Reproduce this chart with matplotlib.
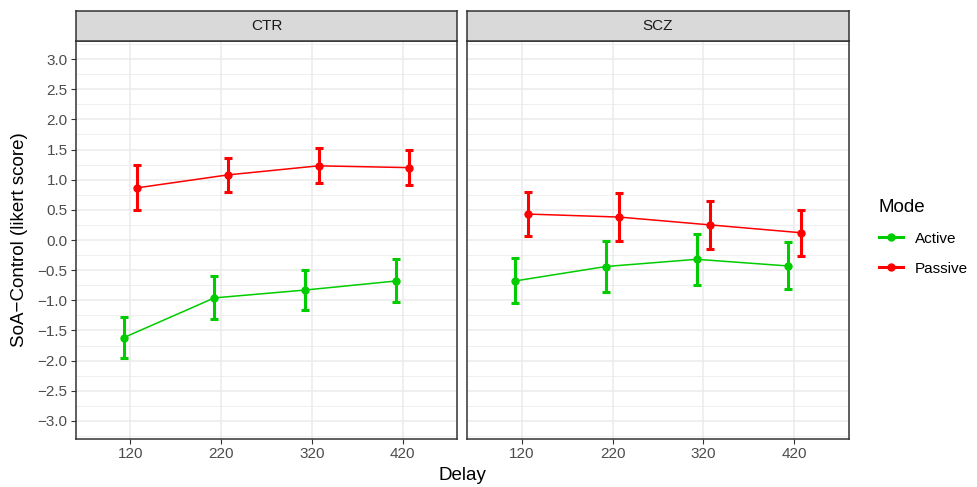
import matplotlib
matplotlib.use('Agg')
import matplotlib.pyplot as plt
import numpy as np
from matplotlib.ticker import MultipleLocator
from matplotlib.lines import Line2D

plt.rcParams['font.family'] = ['Liberation Sans', 'DejaVu Sans']

delays = ['120', '220', '320', '420']
panels = ['CTR', 'SCZ']
modes = ['Active', 'Passive']
mode_colors = {'Active': '#00CD00', 'Passive': '#FF0000'}

# mean, lower, upper per panel / mode
mean = {
    ('CTR', 'Active'): [-1.62, -0.96, -0.83, -0.68],
    ('CTR', 'Passive'): [0.865, 1.08, 1.23, 1.20],
    ('SCZ', 'Active'): [-0.68, -0.44, -0.32, -0.43],
    ('SCZ', 'Passive'): [0.43, 0.38, 0.25, 0.12],
}
lower = {
    ('CTR', 'Active'): [-1.95, -1.31, -1.165, -1.03],
    ('CTR', 'Passive'): [0.505, 0.80, 0.94, 0.91],
    ('SCZ', 'Active'): [-1.04, -0.865, -0.74, -0.81],
    ('SCZ', 'Passive'): [0.07, -0.02, -0.15, -0.26],
}
upper = {
    ('CTR', 'Active'): [-1.285, -0.605, -0.49, -0.32],
    ('CTR', 'Passive'): [1.24, 1.365, 1.52, 1.49],
    ('SCZ', 'Active'): [-0.305, -0.02, 0.095, -0.04],
    ('SCZ', 'Passive'): [0.795, 0.78, 0.655, 0.50],
}
dodge = {'Active': -0.075, 'Passive': 0.075}

W, H = 977, 487
fig = plt.figure(figsize=(W / 100, H / 100), dpi=100)

panel_x = [(76, 457), (467, 849)]
ptop, pbot = 41, 439
strip_top = 11

border = '#333333'
grid_major = '#EBEBEB'
tick_col = '#4D4D4D'

axes = []
for i, name in enumerate(panels):
    x0, x1 = panel_x[i]
    ax = fig.add_axes([x0 / W, 1 - pbot / H, (x1 - x0) / W, (pbot - ptop) / H])
    axes.append(ax)
    x = np.arange(len(delays))
    for m in modes:
        key = (name, m)
        xs = x + dodge[m]
        mu = np.array(mean[key])
        lo = np.array(lower[key])
        hi = np.array(upper[key])
        ax.errorbar(xs, mu, yerr=[mu - lo, hi - mu], fmt='none',
                    ecolor=mode_colors[m], elinewidth=2.2, capsize=3.2,
                    capthick=2.2, zorder=3)
        ax.plot(xs, mu, color=mode_colors[m], lw=1.1, marker='o',
                markersize=5, zorder=4)
    ax.set_xlim(-0.6, 3.6)
    ax.set_ylim(-3.3, 3.3)
    ax.set_xticks(x)
    ax.set_xticklabels(delays)
    ax.yaxis.set_major_locator(MultipleLocator(0.5))
    ax.yaxis.set_minor_locator(MultipleLocator(0.25))
    ax.grid(True, which='major', color=grid_major, lw=1.1, zorder=0)
    ax.grid(True, which='minor', axis='y', color=grid_major, lw=0.55, zorder=0)
    ax.set_axisbelow(True)
    for s in ax.spines.values():
        s.set_color(border)
        s.set_linewidth(1.1)
    ax.tick_params(axis='both', which='major', colors=border, labelcolor=tick_col,
                   labelsize=11, length=3.5, width=0.8, pad=2.5)
    ax.tick_params(axis='y', which='minor', length=0)
    if i == 0:
        ax.set_yticklabels([f'{v:.1f}'.replace('-', '\u2212') for v in ax.get_yticks()])
    else:
        ax.tick_params(axis='y', which='major', labelleft=False, length=0)

    # facet strip
    sax = fig.add_axes([x0 / W, 1 - ptop / H, (x1 - x0) / W, (ptop - strip_top) / H])
    sax.set_facecolor('#D9D9D9')
    sax.set_xticks([])
    sax.set_yticks([])
    for s in sax.spines.values():
        s.set_color(border)
        s.set_linewidth(1.1)
    sax.text(0.5, 0.5, name, ha='center', va='center', fontsize=11,
             color='#1A1A1A', transform=sax.transAxes)

fig.text(462 / W, 1 - 475 / H, 'Delay', ha='center', va='center', fontsize=13.5)
fig.text(20 / W, 1 - 240 / H, 'SoA\u2212Control (likert score)', ha='center',
         va='center', rotation=90, fontsize=13.5)

handles = [Line2D([0], [0], color=mode_colors[m], lw=2.2, marker='o', markersize=5)
           for m in modes]
leg = fig.legend(handles, modes, loc='upper left',
                 bbox_to_anchor=(865 / W, 1 - 185 / H), frameon=False,
                 title='Mode', title_fontsize=13.5, fontsize=11,
                 handlelength=1.6, handletextpad=0.75, labelspacing=1.05,
                 alignment='left')

fig.savefig('out.png', dpi=100)
